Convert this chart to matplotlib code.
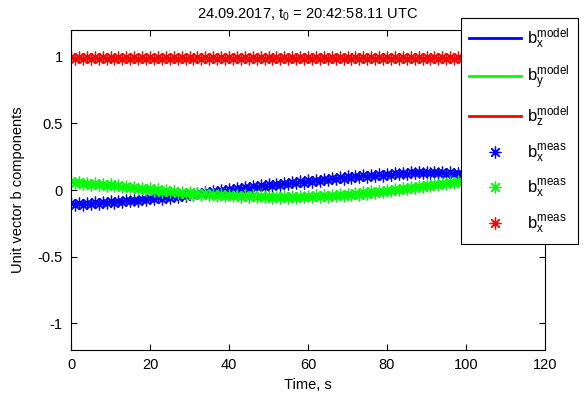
import numpy as np
import matplotlib
matplotlib.use("Agg")
import matplotlib.pyplot as plt

plt.rcParams['font.family'] = ['Liberation Sans', 'DejaVu Sans']
plt.rcParams['mathtext.default'] = 'regular'

# model (knots every 10 s)
t_model = [0, 10, 20, 30, 40, 50, 60, 70, 80, 90, 100]
bx_model = [-0.105, -0.09, -0.065, -0.035, 0.0, 0.035, 0.065, 0.095, 0.115, 0.13, 0.125]
by_model = [0.055, 0.035, 0.005, -0.025, -0.04, -0.05, -0.05, -0.035, -0.005, 0.035, 0.07]
bz_model = [0.99, 0.99, 0.99, 0.99, 0.99, 0.99, 0.99, 0.99, 0.99, 0.99, 0.99]

# measurements, one per second
t_meas = list(range(0, 101))
bx_meas = [
    -0.098, -0.112, -0.100, -0.110, -0.094, -0.105, -0.090, -0.103, -0.088, -0.099,
    -0.085, -0.096, -0.080, -0.091, -0.078, -0.084, -0.072, -0.081, -0.066, -0.074,
    -0.060, -0.071, -0.055, -0.064, -0.049, -0.058, -0.042, -0.050, -0.036, -0.045,
    -0.028, -0.038, -0.022, -0.030, -0.015, -0.022, -0.008, -0.016, 0.000, -0.006,
    0.008, -0.002, 0.015, 0.006, 0.022, 0.012, 0.028, 0.020, 0.034, 0.026,
    0.042, 0.032, 0.046, 0.038, 0.052, 0.044, 0.058, 0.050, 0.064, 0.056,
    0.072, 0.062, 0.078, 0.068, 0.084, 0.074, 0.090, 0.080, 0.096, 0.086,
    0.102, 0.092, 0.106, 0.097, 0.110, 0.101, 0.114, 0.104, 0.118, 0.108,
    0.122, 0.112, 0.126, 0.117, 0.130, 0.120, 0.137, 0.124, 0.136, 0.126,
    0.138, 0.127, 0.134, 0.125, 0.133, 0.122, 0.132, 0.121, 0.131, 0.120,
    0.128]
by_meas = [
    0.064, 0.050, 0.060, 0.045, 0.056, 0.041, 0.052, 0.037, 0.047, 0.032,
    0.044, 0.027, 0.038, 0.021, 0.030, 0.014, 0.024, 0.008, 0.017, 0.001,
    0.012, -0.006, 0.005, -0.012, -0.002, -0.018, -0.008, -0.024, -0.013, -0.030,
    -0.018, -0.034, -0.022, -0.037, -0.026, -0.040, -0.029, -0.043, -0.032, -0.046,
    -0.034, -0.048, -0.036, -0.050, -0.038, -0.052, -0.040, -0.055, -0.042, -0.056,
    -0.044, -0.057, -0.043, -0.058, -0.044, -0.057, -0.043, -0.058, -0.042, -0.056,
    -0.043, -0.055, -0.040, -0.053, -0.038, -0.050, -0.036, -0.048, -0.033, -0.045,
    -0.028, -0.040, -0.022, -0.035, -0.016, -0.028, -0.010, -0.022, -0.004, -0.015,
    0.002, -0.010, 0.008, -0.002, 0.016, 0.004, 0.024, 0.012, 0.032, 0.020,
    0.040, 0.030, 0.047, 0.036, 0.054, 0.044, 0.061, 0.050, 0.068, 0.058,
    0.074]
bz_meas = [
    0.998, 0.984, 0.995, 0.982, 0.997, 0.986, 0.999, 0.983, 0.994, 0.985,
    0.998, 0.982, 0.996, 0.984, 0.999, 0.983, 0.995, 0.986, 0.997, 0.982,
    0.998, 0.985, 0.994, 0.983, 0.999, 0.984, 0.996, 0.982, 0.997, 0.986,
    0.995, 0.983, 0.998, 0.985, 0.999, 0.982, 0.994, 0.984, 0.997, 0.983,
    0.996, 0.986, 0.998, 0.982, 0.995, 0.985, 0.999, 0.983, 0.997, 0.984,
    0.994, 0.982, 0.998, 0.986, 0.996, 0.983, 0.999, 0.985, 0.995, 0.982,
    0.997, 0.984, 0.998, 0.983, 0.994, 0.986, 0.999, 0.982, 0.996, 0.985,
    0.997, 0.983, 0.995, 0.984, 0.998, 0.982, 0.999, 0.986, 0.994, 0.983,
    0.997, 0.985, 0.996, 0.982, 0.998, 0.984, 0.995, 0.983, 0.999, 0.986,
    0.997, 0.982, 0.994, 0.985, 0.998, 0.983, 0.996, 0.984, 0.999, 0.982,
    0.997]

labels_model = ['$b_x^{model}$', '$b_y^{model}$', '$b_z^{model}$']
labels_meas = ['$b_x^{meas}$', '$b_x^{meas}$', '$b_x^{meas}$']
colors = ['#0000ff', '#00ff00', '#ff0000']

fig = plt.figure(figsize=(5.84, 3.98), dpi=100)
ax = fig.add_axes([71 / 584, 1 - 350 / 398, 474 / 584, 320 / 398])

for y, c, lab in zip([bx_model, by_model, bz_model], colors, labels_model):
    ax.plot(t_model, y, color=c, linewidth=2, label=lab)
asterisk = (8, 2, 0)
for y, c, lab in zip([bx_meas, by_meas, bz_meas], colors, labels_meas):
    ax.plot(t_meas, y, linestyle='none', marker=asterisk, markersize=8.5,
            markeredgewidth=0.9, color=c, label=lab)

ax.set_xlim(0, 120)
ax.set_ylim(-1.2, 1.2)
ax.set_xticks([0, 20, 40, 60, 80, 100, 120])
ax.set_yticks([-1, -0.5, 0, 0.5, 1])
ax.set_yticklabels(['-1', '-0.5', '0', '0.5', '1'])
ax.tick_params(direction='in', top=True, right=True, labelsize=10.5,
               length=4, width=0.8, pad=6)
for s in ax.spines.values():
    s.set_linewidth(0.8)

ax.set_xlabel('Time, s', fontsize=10.5, labelpad=4)
ax.set_ylabel('Unit vector b components', fontsize=10.5, labelpad=9)
ax.set_title('24.09.2017, t$_0$ = 20:42:58.11 UTC', fontsize=10.5, pad=8)

leg = fig.legend(loc='upper left', bbox_to_anchor=(461 / 584, 1 - 18 / 398),
                 fontsize=12, frameon=True, fancybox=False, framealpha=1,
                 edgecolor='black', handlelength=3.1, labelspacing=0.78,
                 borderpad=0.5, handletextpad=0.35, borderaxespad=0)
leg.get_frame().set_linewidth(0.8)

fig.savefig('out.png', dpi=100)
